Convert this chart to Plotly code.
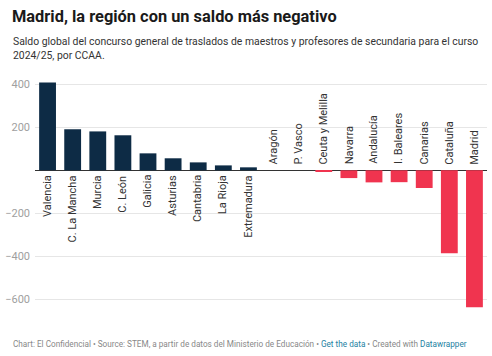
import plotly.graph_objects as go

regions = ["Valencia", "C. La Mancha", "Murcia", "C. León", "Galicia", "Asturias",
           "Cantabria", "La Rioja", "Extremadura", "Aragón", "P. Vasco", "Ceuta y Melilla",
           "Navarra", "Andalucía", "I. Baleares", "Canarias", "Cataluña", "Madrid"]
saldo = [408, 191, 181, 163, 79, 56, 37, 23, 14, 0, 0, -5, -36, -56, -55, -82, -385, -636]
tick_vals = [-600, -400, -200, 0, 200, 400]
tick_text = ["−600", "−400", "−200", "", "200", "400"]

POS = "#0d2b45"
NEG = "#f0344f"
W, H = 492, 356
MT, MB, ML, MR = 80, 48, 32, 5

def py(y_px):
    return (H - MB - y_px) / (H - MT - MB)

def px(x_px):
    return (x_px - ML) / (W - ML - MR)

colors = [POS if v > 0 else NEG for v in saldo]

fig = go.Figure(go.Bar(x=regions, y=saldo, marker_color=colors, marker_line_width=0,
                       hoverinfo="x+y"))

annotations = []
for r, v in zip(regions, saldo):
    if v > 0:
        annotations.append(dict(x=r, y=0, xref="x", yref="y", text=r, showarrow=False,
                                textangle=-90, yanchor="top", xanchor="center", yshift=-3,
                                font=dict(size=11, color="#333333")))
    else:
        annotations.append(dict(x=r, y=0, xref="x", yref="y", text=r, showarrow=False,
                                textangle=-90, yanchor="bottom", xanchor="center", yshift=4,
                                font=dict(size=11, color="#333333")))

annotations.append(dict(x=px(7), y=py(5), xref="paper", yref="paper", xanchor="left", yanchor="top",
                        text="<b>Madrid, la región con un saldo más negativo</b>", showarrow=False,
                        font=dict(size=16.4, color="#1a1a1a")))
annotations.append(dict(x=px(8), y=py(33), xref="paper", yref="paper", xanchor="left", yanchor="top",
                        align="left",
                        text="Saldo global del concurso general de traslados de maestros y profesores de secundaria para el curso<br>2024/25, por CCAA.",
                        showarrow=False, font=dict(size=10.4, color="#333333")))
annotations.append(dict(x=px(8), y=py(337), xref="paper", yref="paper", xanchor="left", yanchor="top",
                        align="left",
                        text="Chart: El Confidencial • Source: STEM, a partir de datos del Ministerio de Educación • "
                             "<span style='color:#1d81a2'>Get the data</span> • Created with "
                             "<span style='color:#1d81a2'>Datawrapper</span>",
                        showarrow=False, font=dict(size=8.2, color="#888888")))

fig.update_layout(
    width=W, height=H,
    margin=dict(t=MT, b=MB, l=ML, r=MR, pad=0),
    paper_bgcolor="white", plot_bgcolor="white",
    font=dict(family="Roboto, Arial, sans-serif", color="#333333"),
    bargap=0.33,
    showlegend=False,
    annotations=annotations,
    xaxis=dict(showticklabels=False, showgrid=False, zeroline=False, showline=False, ticks=""),
    yaxis=dict(range=[-640, 420], tickvals=tick_vals, ticktext=tick_text,
               showgrid=True, gridcolor="#e6e6e6", gridwidth=1,
               zeroline=True, zerolinecolor="#333333", zerolinewidth=1,
               tickfont=dict(size=11, color="#a0a0a0"), ticks="", ticklabelstandoff=4,
               showline=False),
)

fig.write_html("out.html", config={"displayModeBar": False},
               post_script="document.body.style.margin='0';document.body.style.overflow='hidden';")
